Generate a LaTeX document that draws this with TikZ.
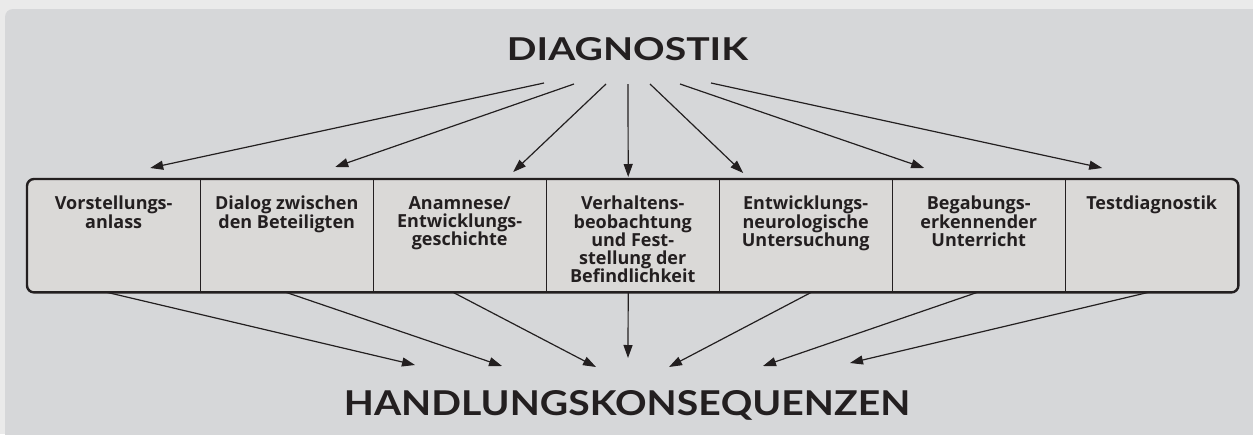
\documentclass[tikz,border=0pt]{standalone}
\usepackage{fontspec}
\setmainfont{Lato}
\newfontfamily\cellfont{Open Sans}
\usepackage{graphicx}
\usepackage{xcolor}
\usetikzlibrary{positioning,arrows.meta,backgrounds}
\definecolor{outergray}{HTML}{EAEAEA}
\definecolor{panelgray}{HTML}{D6D7D9}
\definecolor{cellgray}{HTML}{DAD9D7}
\definecolor{ink}{HTML}{231F20}
\newcommand{\celltext}[1]{\parbox[c][79pt][t]{170pt}{\centering #1}}

\begin{document}
\begin{tikzpicture}[x=1pt,y=-1pt]
\tikzstyle{every node}+=[inner sep=0pt, text=ink]
\tikzstyle{cell}=[anchor=north west, minimum width=173pt, minimum height=113pt, font=\cellfont\fontsize{18}{18.2}\selectfont\bfseries]
\tikzstyle{arr}=[draw=ink, line width=1.2pt, -{Triangle[length=13pt,width=9pt]}]
\useasboundingbox (0,0) rectangle (1253,434);
\node (diag) at (627.5,49.5) {\resizebox{241pt}{23pt}{\bfseries DIAGNOSTIK}};
\node (hand) at (627,403.5) {\resizebox{566pt}{25pt}{\bfseries HANDLUNGSKONSE\raisebox{0pt}[\height][0pt]{Q}UENZEN}};
\node [cell] (anlass) at (27,179) {\celltext{Vorstellungs-\\anlass}};
\node [cell] (dialog) at (200,179) {\celltext{Dialog zwischen\\den Beteiligten}};
\node [cell] (anamnese) at (373,179) {\celltext{Anamnese/\\Entwicklungs-\\geschichte}};
\node [cell] (verhalten) at (546,179) {\celltext{Verhaltens-\\beobachtung\\und Fest-\\stellung der\\Befindlichkeit}};
\node [cell] (neuro) at (719,179) {\celltext{Entwicklungs-\\neurologische\\Untersuchung}};
\node [cell] (begabung) at (892,179) {\celltext{Begabungs-\\erkennender\\Unterricht}};
\node [cell] (test) at (1065,179) {\celltext{Testdiagnostik}};
\begin{scope}[on background layer]
\fill [outergray] (0,0) rectangle (1253,434);
\fill [panelgray, rounded corners=8pt] (5,470) -- (5,9) -- (1290,9) -- (1290,470) -- cycle;
\draw [ink, line width=2.4pt, fill=cellgray, rounded corners=7pt] (anlass.north west) rectangle (test.south east);
\end{scope}
\draw [ink, line width=1.4pt] (anlass.north east) -- (anlass.south east);
\draw [ink, line width=1.4pt] (dialog.north east) -- (dialog.south east);
\draw [ink, line width=1.4pt] (anamnese.north east) -- (anamnese.south east);
\draw [ink, line width=1.4pt] (verhalten.north east) -- (verhalten.south east);
\draw [ink, line width=1.4pt] (neuro.north east) -- (neuro.south east);
\draw [ink, line width=1.4pt] (begabung.north east) -- (begabung.south east);
\coordinate (diag1) at (544,83);
\coordinate (diag2) at (574,84);
\coordinate (diag3) at (606,84);
\coordinate (diag4) at (628,84);
\coordinate (diag5) at (650,84);
\coordinate (diag6) at (680,84);
\coordinate (diag7) at (711,83);
\draw [arr] (diag1) -- ([xshift=36.5pt,yshift=11pt]anlass.north);
\draw [arr] (diag2) -- ([xshift=48.5pt,yshift=12pt]dialog.north);
\draw [arr] (diag3) -- ([xshift=53.5pt,yshift=7pt]anamnese.north);
\draw [arr] (diag4) -- ([xshift=-4.5pt,yshift=2pt]verhalten.north);
\draw [arr] (diag5) -- ([xshift=-62.5pt,yshift=6pt]neuro.north);
\draw [arr] (diag6) -- ([xshift=-54.5pt,yshift=11pt]begabung.north);
\draw [arr] (diag7) -- ([xshift=-49.5pt,yshift=11pt]test.north);
\coordinate (hand1) at (415,365);
\coordinate (hand2) at (502,366);
\coordinate (hand3) at (596,367);
\coordinate (hand4) at (628,358);
\coordinate (hand5) at (669,367);
\coordinate (hand6) at (763,366);
\coordinate (hand7) at (850,363);
\draw [arr] ([xshift=-6.5pt]anlass.south) -- (hand1);
\draw [arr] ([xshift=-0.5pt]dialog.south) -- (hand2);
\draw [arr] ([xshift=-6.5pt]anamnese.south) -- (hand3);
\draw [arr] ([xshift=-4.5pt]verhalten.south) -- (hand4);
\draw [arr] ([xshift=5.5pt]neuro.south) -- (hand5);
\draw [arr] ([xshift=-1.5pt]begabung.south) -- (hand6);
\draw [arr] ([xshift=-3.5pt]test.south) -- (hand7);
\end{tikzpicture}
\end{document}
